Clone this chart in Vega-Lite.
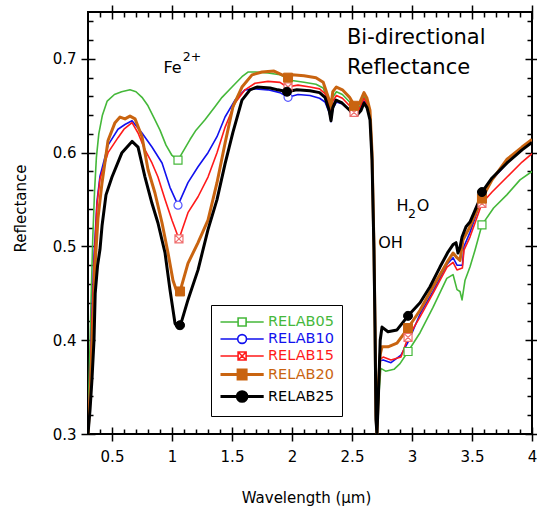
{
  "$schema": "https://vega.github.io/schema/vega-lite/v6.json",
  "width": 444,
  "height": 422,
  "autosize": {"type": "none"},
  "padding": {"left": 88, "top": 12, "right": 5, "bottom": 75},
  "config": {
    "view": {"stroke": "black", "strokeWidth": 2},
    "font": "DejaVu Sans",
    "axis": {"grid": false, "domain": false, "ticks": true, "tickColor": "#000000", "tickOpacity": 1, "tickWidth": 1.5, "labelFont": "DejaVu Sans", "labelFontSize": 15, "labelColor": "black", "titleFont": "DejaVu Sans", "titleFontSize": 15, "titleFontWeight": "normal", "titleColor": "black", "labelFlush": false, "labelOverlap": false},
    "legend": {"title": null, "orient": "none", "legendX": 123, "legendY": 293, "padding": 8, "strokeColor": "black", "fillColor": "white", "labelFont": "DejaVu Sans", "labelFontSize": 14.5, "labelOffset": 30, "rowPadding": 0, "symbolSize": 256, "symbolOpacity": 1}
  },
  "datasets": {
    "spectra": [
      {"series":"RELAB05","wavelength":0.300,"reflectance":0.300},{"series":"RELAB05","wavelength":0.310,"reflectance":0.360},{"series":"RELAB05","wavelength":0.325,"reflectance":0.440},{"series":"RELAB05","wavelength":0.340,"reflectance":0.510},{"series":"RELAB05","wavelength":0.355,"reflectance":0.560},{"series":"RELAB05","wavelength":0.370,"reflectance":0.595},{"series":"RELAB05","wavelength":0.390,"reflectance":0.620},{"series":"RELAB05","wavelength":0.420,"reflectance":0.640},{"series":"RELAB05","wavelength":0.460,"reflectance":0.655},{"series":"RELAB05","wavelength":0.520,"reflectance":0.662},{"series":"RELAB05","wavelength":0.580,"reflectance":0.665},{"series":"RELAB05","wavelength":0.650,"reflectance":0.667},{"series":"RELAB05","wavelength":0.700,"reflectance":0.665},{"series":"RELAB05","wavelength":0.750,"reflectance":0.659},{"series":"RELAB05","wavelength":0.800,"reflectance":0.650},{"series":"RELAB05","wavelength":0.850,"reflectance":0.637},{"series":"RELAB05","wavelength":0.900,"reflectance":0.624},{"series":"RELAB05","wavelength":0.950,"reflectance":0.608},{"series":"RELAB05","wavelength":1.000,"reflectance":0.597},{"series":"RELAB05","wavelength":1.050,"reflectance":0.592},{"series":"RELAB05","wavelength":1.100,"reflectance":0.603},{"series":"RELAB05","wavelength":1.150,"reflectance":0.614},{"series":"RELAB05","wavelength":1.200,"reflectance":0.624},{"series":"RELAB05","wavelength":1.275,"reflectance":0.635},{"series":"RELAB05","wavelength":1.358,"reflectance":0.649},{"series":"RELAB05","wavelength":1.417,"reflectance":0.659},{"series":"RELAB05","wavelength":1.500,"reflectance":0.670},{"series":"RELAB05","wavelength":1.583,"reflectance":0.681},{"series":"RELAB05","wavelength":1.633,"reflectance":0.686},{"series":"RELAB05","wavelength":1.700,"reflectance":0.686},{"series":"RELAB05","wavelength":1.800,"reflectance":0.685},{"series":"RELAB05","wavelength":1.900,"reflectance":0.683},{"series":"RELAB05","wavelength":1.950,"reflectance":0.680},{"series":"RELAB05","wavelength":2.000,"reflectance":0.677},{"series":"RELAB05","wavelength":2.100,"reflectance":0.675},{"series":"RELAB05","wavelength":2.200,"reflectance":0.673},{"series":"RELAB05","wavelength":2.260,"reflectance":0.669},{"series":"RELAB05","wavelength":2.300,"reflectance":0.655},{"series":"RELAB05","wavelength":2.325,"reflectance":0.644},{"series":"RELAB05","wavelength":2.340,"reflectance":0.659},{"series":"RELAB05","wavelength":2.370,"reflectance":0.665},{"series":"RELAB05","wavelength":2.420,"reflectance":0.662},{"series":"RELAB05","wavelength":2.480,"reflectance":0.654},{"series":"RELAB05","wavelength":2.520,"reflectance":0.646},{"series":"RELAB05","wavelength":2.560,"reflectance":0.648},{"series":"RELAB05","wavelength":2.600,"reflectance":0.660},{"series":"RELAB05","wavelength":2.625,"reflectance":0.654},{"series":"RELAB05","wavelength":2.650,"reflectance":0.641},{"series":"RELAB05","wavelength":2.667,"reflectance":0.597},{"series":"RELAB05","wavelength":2.683,"reflectance":0.499},{"series":"RELAB05","wavelength":2.692,"reflectance":0.414},{"series":"RELAB05","wavelength":2.700,"reflectance":0.318},{"series":"RELAB05","wavelength":2.708,"reflectance":0.300},{"series":"RELAB05","wavelength":2.720,"reflectance":0.335},{"series":"RELAB05","wavelength":2.740,"reflectance":0.370},{"series":"RELAB05","wavelength":2.780,"reflectance":0.367},{"series":"RELAB05","wavelength":2.850,"reflectance":0.369},{"series":"RELAB05","wavelength":2.900,"reflectance":0.375},{"series":"RELAB05","wavelength":2.967,"reflectance":0.388},{"series":"RELAB05","wavelength":3.067,"reflectance":0.408},{"series":"RELAB05","wavelength":3.175,"reflectance":0.435},{"series":"RELAB05","wavelength":3.290,"reflectance":0.466},{"series":"RELAB05","wavelength":3.342,"reflectance":0.470},{"series":"RELAB05","wavelength":3.375,"reflectance":0.454},{"series":"RELAB05","wavelength":3.400,"reflectance":0.452},{"series":"RELAB05","wavelength":3.417,"reflectance":0.443},{"series":"RELAB05","wavelength":3.442,"reflectance":0.464},{"series":"RELAB05","wavelength":3.483,"reflectance":0.478},{"series":"RELAB05","wavelength":3.525,"reflectance":0.496},{"series":"RELAB05","wavelength":3.583,"reflectance":0.523},{"series":"RELAB05","wavelength":3.680,"reflectance":0.541},{"series":"RELAB05","wavelength":3.790,"reflectance":0.555},{"series":"RELAB05","wavelength":3.900,"reflectance":0.571},{"series":"RELAB05","wavelength":4.000,"reflectance":0.580},

      {"series":"RELAB10","wavelength":0.300,"reflectance":0.300},{"series":"RELAB10","wavelength":0.317,"reflectance":0.350},{"series":"RELAB10","wavelength":0.333,"reflectance":0.425},{"series":"RELAB10","wavelength":0.350,"reflectance":0.490},{"series":"RELAB10","wavelength":0.375,"reflectance":0.548},{"series":"RELAB10","wavelength":0.400,"reflectance":0.575},{"series":"RELAB10","wavelength":0.467,"reflectance":0.608},{"series":"RELAB10","wavelength":0.550,"reflectance":0.625},{"series":"RELAB10","wavelength":0.608,"reflectance":0.630},{"series":"RELAB10","wavelength":0.667,"reflectance":0.634},{"series":"RELAB10","wavelength":0.750,"reflectance":0.621},{"series":"RELAB10","wavelength":0.833,"reflectance":0.606},{"series":"RELAB10","wavelength":0.917,"reflectance":0.589},{"series":"RELAB10","wavelength":0.983,"reflectance":0.563},{"series":"RELAB10","wavelength":1.050,"reflectance":0.544},{"series":"RELAB10","wavelength":1.133,"reflectance":0.568},{"series":"RELAB10","wavelength":1.217,"reflectance":0.585},{"series":"RELAB10","wavelength":1.300,"reflectance":0.600},{"series":"RELAB10","wavelength":1.375,"reflectance":0.617},{"series":"RELAB10","wavelength":1.442,"reflectance":0.638},{"series":"RELAB10","wavelength":1.525,"reflectance":0.656},{"series":"RELAB10","wavelength":1.608,"reflectance":0.667},{"series":"RELAB10","wavelength":1.700,"reflectance":0.668},{"series":"RELAB10","wavelength":1.800,"reflectance":0.667},{"series":"RELAB10","wavelength":1.900,"reflectance":0.664},{"series":"RELAB10","wavelength":1.967,"reflectance":0.659},{"series":"RELAB10","wavelength":2.050,"reflectance":0.662},{"series":"RELAB10","wavelength":2.150,"reflectance":0.661},{"series":"RELAB10","wavelength":2.230,"reflectance":0.658},{"series":"RELAB10","wavelength":2.275,"reflectance":0.654},{"series":"RELAB10","wavelength":2.310,"reflectance":0.643},{"series":"RELAB10","wavelength":2.325,"reflectance":0.633},{"series":"RELAB10","wavelength":2.340,"reflectance":0.647},{"series":"RELAB10","wavelength":2.370,"reflectance":0.654},{"series":"RELAB10","wavelength":2.420,"reflectance":0.652},{"series":"RELAB10","wavelength":2.480,"reflectance":0.645},{"series":"RELAB10","wavelength":2.520,"reflectance":0.640},{"series":"RELAB10","wavelength":2.560,"reflectance":0.643},{"series":"RELAB10","wavelength":2.600,"reflectance":0.655},{"series":"RELAB10","wavelength":2.625,"reflectance":0.650},{"series":"RELAB10","wavelength":2.650,"reflectance":0.638},{"series":"RELAB10","wavelength":2.667,"reflectance":0.593},{"series":"RELAB10","wavelength":2.683,"reflectance":0.497},{"series":"RELAB10","wavelength":2.692,"reflectance":0.412},{"series":"RELAB10","wavelength":2.700,"reflectance":0.316},{"series":"RELAB10","wavelength":2.708,"reflectance":0.300},{"series":"RELAB10","wavelength":2.720,"reflectance":0.345},{"series":"RELAB10","wavelength":2.735,"reflectance":0.378},{"series":"RELAB10","wavelength":2.760,"reflectance":0.379},{"series":"RELAB10","wavelength":2.825,"reflectance":0.376},{"series":"RELAB10","wavelength":2.908,"reflectance":0.384},{"series":"RELAB10","wavelength":2.967,"reflectance":0.398},{"series":"RELAB10","wavelength":3.067,"reflectance":0.428},{"series":"RELAB10","wavelength":3.175,"reflectance":0.452},{"series":"RELAB10","wavelength":3.292,"reflectance":0.481},{"series":"RELAB10","wavelength":3.342,"reflectance":0.488},{"series":"RELAB10","wavelength":3.375,"reflectance":0.480},{"series":"RELAB10","wavelength":3.420,"reflectance":0.480},{"series":"RELAB10","wavelength":3.433,"reflectance":0.500},{"series":"RELAB10","wavelength":3.483,"reflectance":0.515},{"series":"RELAB10","wavelength":3.525,"reflectance":0.530},{"series":"RELAB10","wavelength":3.583,"reflectance":0.553},{"series":"RELAB10","wavelength":3.667,"reflectance":0.571},{"series":"RELAB10","wavelength":3.792,"reflectance":0.589},{"series":"RELAB10","wavelength":3.917,"reflectance":0.605},{"series":"RELAB10","wavelength":4.000,"reflectance":0.612},

      {"series":"RELAB15","wavelength":0.300,"reflectance":0.300},{"series":"RELAB15","wavelength":0.317,"reflectance":0.350},{"series":"RELAB15","wavelength":0.333,"reflectance":0.420},{"series":"RELAB15","wavelength":0.350,"reflectance":0.480},{"series":"RELAB15","wavelength":0.375,"reflectance":0.545},{"series":"RELAB15","wavelength":0.400,"reflectance":0.572},{"series":"RELAB15","wavelength":0.467,"reflectance":0.600},{"series":"RELAB15","wavelength":0.550,"reflectance":0.616},{"series":"RELAB15","wavelength":0.600,"reflectance":0.625},{"series":"RELAB15","wavelength":0.667,"reflectance":0.632},{"series":"RELAB15","wavelength":0.717,"reflectance":0.621},{"series":"RELAB15","wavelength":0.775,"reflectance":0.603},{"series":"RELAB15","wavelength":0.833,"reflectance":0.589},{"series":"RELAB15","wavelength":0.883,"reflectance":0.574},{"series":"RELAB15","wavelength":0.942,"reflectance":0.550},{"series":"RELAB15","wavelength":1.000,"reflectance":0.528},{"series":"RELAB15","wavelength":1.058,"reflectance":0.508},{"series":"RELAB15","wavelength":1.133,"reflectance":0.536},{"series":"RELAB15","wavelength":1.217,"reflectance":0.553},{"series":"RELAB15","wavelength":1.300,"reflectance":0.574},{"series":"RELAB15","wavelength":1.375,"reflectance":0.600},{"series":"RELAB15","wavelength":1.442,"reflectance":0.627},{"series":"RELAB15","wavelength":1.525,"reflectance":0.653},{"series":"RELAB15","wavelength":1.608,"reflectance":0.667},{"series":"RELAB15","wavelength":1.692,"reflectance":0.674},{"series":"RELAB15","wavelength":1.800,"reflectance":0.676},{"series":"RELAB15","wavelength":1.900,"reflectance":0.675},{"series":"RELAB15","wavelength":1.958,"reflectance":0.670},{"series":"RELAB15","wavelength":2.050,"reflectance":0.672},{"series":"RELAB15","wavelength":2.150,"reflectance":0.670},{"series":"RELAB15","wavelength":2.230,"reflectance":0.668},{"series":"RELAB15","wavelength":2.275,"reflectance":0.663},{"series":"RELAB15","wavelength":2.310,"reflectance":0.650},{"series":"RELAB15","wavelength":2.325,"reflectance":0.640},{"series":"RELAB15","wavelength":2.340,"reflectance":0.655},{"series":"RELAB15","wavelength":2.370,"reflectance":0.661},{"series":"RELAB15","wavelength":2.420,"reflectance":0.658},{"series":"RELAB15","wavelength":2.480,"reflectance":0.650},{"series":"RELAB15","wavelength":2.520,"reflectance":0.643},{"series":"RELAB15","wavelength":2.560,"reflectance":0.646},{"series":"RELAB15","wavelength":2.600,"reflectance":0.658},{"series":"RELAB15","wavelength":2.625,"reflectance":0.652},{"series":"RELAB15","wavelength":2.650,"reflectance":0.640},{"series":"RELAB15","wavelength":2.667,"reflectance":0.595},{"series":"RELAB15","wavelength":2.683,"reflectance":0.498},{"series":"RELAB15","wavelength":2.692,"reflectance":0.413},{"series":"RELAB15","wavelength":2.700,"reflectance":0.317},{"series":"RELAB15","wavelength":2.708,"reflectance":0.300},{"series":"RELAB15","wavelength":2.720,"reflectance":0.345},{"series":"RELAB15","wavelength":2.735,"reflectance":0.380},{"series":"RELAB15","wavelength":2.760,"reflectance":0.382},{"series":"RELAB15","wavelength":2.825,"reflectance":0.379},{"series":"RELAB15","wavelength":2.908,"reflectance":0.382},{"series":"RELAB15","wavelength":2.967,"reflectance":0.403},{"series":"RELAB15","wavelength":3.067,"reflectance":0.425},{"series":"RELAB15","wavelength":3.175,"reflectance":0.450},{"series":"RELAB15","wavelength":3.292,"reflectance":0.478},{"series":"RELAB15","wavelength":3.342,"reflectance":0.483},{"series":"RELAB15","wavelength":3.375,"reflectance":0.475},{"series":"RELAB15","wavelength":3.420,"reflectance":0.477},{"series":"RELAB15","wavelength":3.433,"reflectance":0.496},{"series":"RELAB15","wavelength":3.483,"reflectance":0.510},{"series":"RELAB15","wavelength":3.525,"reflectance":0.525},{"series":"RELAB15","wavelength":3.583,"reflectance":0.546},{"series":"RELAB15","wavelength":3.667,"reflectance":0.558},{"series":"RELAB15","wavelength":3.792,"reflectance":0.574},{"series":"RELAB15","wavelength":3.917,"reflectance":0.590},{"series":"RELAB15","wavelength":4.000,"reflectance":0.599},

      {"series":"RELAB20","wavelength":0.300,"reflectance":0.300},{"series":"RELAB20","wavelength":0.317,"reflectance":0.340},{"series":"RELAB20","wavelength":0.333,"reflectance":0.390},{"series":"RELAB20","wavelength":0.350,"reflectance":0.440},{"series":"RELAB20","wavelength":0.358,"reflectance":0.478},{"series":"RELAB20","wavelength":0.383,"reflectance":0.530},{"series":"RELAB20","wavelength":0.417,"reflectance":0.568},{"series":"RELAB20","wavelength":0.467,"reflectance":0.613},{"series":"RELAB20","wavelength":0.525,"reflectance":0.632},{"series":"RELAB20","wavelength":0.567,"reflectance":0.638},{"series":"RELAB20","wavelength":0.608,"reflectance":0.636},{"series":"RELAB20","wavelength":0.650,"reflectance":0.639},{"series":"RELAB20","wavelength":0.692,"reflectance":0.636},{"series":"RELAB20","wavelength":0.750,"reflectance":0.617},{"series":"RELAB20","wavelength":0.800,"reflectance":0.582},{"series":"RELAB20","wavelength":0.858,"reflectance":0.557},{"series":"RELAB20","wavelength":0.917,"reflectance":0.525},{"series":"RELAB20","wavelength":0.967,"reflectance":0.493},{"series":"RELAB20","wavelength":1.008,"reflectance":0.464},{"series":"RELAB20","wavelength":1.042,"reflectance":0.451},{"series":"RELAB20","wavelength":1.067,"reflectance":0.452},{"series":"RELAB20","wavelength":1.133,"reflectance":0.482},{"series":"RELAB20","wavelength":1.217,"reflectance":0.504},{"series":"RELAB20","wavelength":1.300,"reflectance":0.528},{"series":"RELAB20","wavelength":1.375,"reflectance":0.568},{"series":"RELAB20","wavelength":1.442,"reflectance":0.610},{"series":"RELAB20","wavelength":1.508,"reflectance":0.649},{"series":"RELAB20","wavelength":1.583,"reflectance":0.670},{"series":"RELAB20","wavelength":1.667,"reflectance":0.683},{"series":"RELAB20","wavelength":1.750,"reflectance":0.686},{"series":"RELAB20","wavelength":1.850,"reflectance":0.687},{"series":"RELAB20","wavelength":1.967,"reflectance":0.680},{"series":"RELAB20","wavelength":2.000,"reflectance":0.683},{"series":"RELAB20","wavelength":2.100,"reflectance":0.682},{"series":"RELAB20","wavelength":2.200,"reflectance":0.680},{"series":"RELAB20","wavelength":2.260,"reflectance":0.675},{"series":"RELAB20","wavelength":2.300,"reflectance":0.660},{"series":"RELAB20","wavelength":2.325,"reflectance":0.650},{"series":"RELAB20","wavelength":2.340,"reflectance":0.665},{"series":"RELAB20","wavelength":2.370,"reflectance":0.670},{"series":"RELAB20","wavelength":2.420,"reflectance":0.667},{"series":"RELAB20","wavelength":2.480,"reflectance":0.659},{"series":"RELAB20","wavelength":2.520,"reflectance":0.650},{"series":"RELAB20","wavelength":2.560,"reflectance":0.652},{"series":"RELAB20","wavelength":2.600,"reflectance":0.664},{"series":"RELAB20","wavelength":2.625,"reflectance":0.658},{"series":"RELAB20","wavelength":2.650,"reflectance":0.645},{"series":"RELAB20","wavelength":2.667,"reflectance":0.600},{"series":"RELAB20","wavelength":2.683,"reflectance":0.500},{"series":"RELAB20","wavelength":2.692,"reflectance":0.415},{"series":"RELAB20","wavelength":2.700,"reflectance":0.320},{"series":"RELAB20","wavelength":2.708,"reflectance":0.300},{"series":"RELAB20","wavelength":2.720,"reflectance":0.350},{"series":"RELAB20","wavelength":2.735,"reflectance":0.385},{"series":"RELAB20","wavelength":2.750,"reflectance":0.393},{"series":"RELAB20","wavelength":2.800,"reflectance":0.393},{"series":"RELAB20","wavelength":2.875,"reflectance":0.397},{"series":"RELAB20","wavelength":2.967,"reflectance":0.413},{"series":"RELAB20","wavelength":3.067,"reflectance":0.432},{"series":"RELAB20","wavelength":3.175,"reflectance":0.457},{"series":"RELAB20","wavelength":3.292,"reflectance":0.483},{"series":"RELAB20","wavelength":3.342,"reflectance":0.493},{"series":"RELAB20","wavelength":3.375,"reflectance":0.488},{"series":"RELAB20","wavelength":3.400,"reflectance":0.485},{"series":"RELAB20","wavelength":3.425,"reflectance":0.507},{"series":"RELAB20","wavelength":3.483,"reflectance":0.521},{"series":"RELAB20","wavelength":3.542,"reflectance":0.539},{"series":"RELAB20","wavelength":3.583,"reflectance":0.551},{"series":"RELAB20","wavelength":3.667,"reflectance":0.571},{"series":"RELAB20","wavelength":3.792,"reflectance":0.593},{"series":"RELAB20","wavelength":3.917,"reflectance":0.606},{"series":"RELAB20","wavelength":4.000,"reflectance":0.614},

      {"series":"RELAB25","wavelength":0.300,"reflectance":0.300},{"series":"RELAB25","wavelength":0.317,"reflectance":0.326},{"series":"RELAB25","wavelength":0.333,"reflectance":0.358},{"series":"RELAB25","wavelength":0.350,"reflectance":0.400},{"series":"RELAB25","wavelength":0.360,"reflectance":0.450},{"series":"RELAB25","wavelength":0.380,"reflectance":0.480},{"series":"RELAB25","wavelength":0.400,"reflectance":0.497},{"series":"RELAB25","wavelength":0.417,"reflectance":0.522},{"series":"RELAB25","wavelength":0.450,"reflectance":0.555},{"series":"RELAB25","wavelength":0.500,"reflectance":0.574},{"series":"RELAB25","wavelength":0.583,"reflectance":0.600},{"series":"RELAB25","wavelength":0.667,"reflectance":0.612},{"series":"RELAB25","wavelength":0.717,"reflectance":0.606},{"series":"RELAB25","wavelength":0.775,"reflectance":0.574},{"series":"RELAB25","wavelength":0.833,"reflectance":0.546},{"series":"RELAB25","wavelength":0.883,"reflectance":0.525},{"series":"RELAB25","wavelength":0.942,"reflectance":0.493},{"series":"RELAB25","wavelength":0.983,"reflectance":0.454},{"series":"RELAB25","wavelength":1.025,"reflectance":0.418},{"series":"RELAB25","wavelength":1.050,"reflectance":0.413},{"series":"RELAB25","wavelength":1.075,"reflectance":0.418},{"series":"RELAB25","wavelength":1.133,"reflectance":0.443},{"series":"RELAB25","wavelength":1.217,"reflectance":0.475},{"series":"RELAB25","wavelength":1.300,"reflectance":0.518},{"series":"RELAB25","wavelength":1.375,"reflectance":0.550},{"series":"RELAB25","wavelength":1.442,"reflectance":0.588},{"series":"RELAB25","wavelength":1.508,"reflectance":0.622},{"series":"RELAB25","wavelength":1.583,"reflectance":0.656},{"series":"RELAB25","wavelength":1.650,"reflectance":0.667},{"series":"RELAB25","wavelength":1.708,"reflectance":0.670},{"series":"RELAB25","wavelength":1.817,"reflectance":0.669},{"series":"RELAB25","wavelength":1.883,"reflectance":0.667},{"series":"RELAB25","wavelength":1.958,"reflectance":0.665},{"series":"RELAB25","wavelength":2.040,"reflectance":0.667},{"series":"RELAB25","wavelength":2.150,"reflectance":0.666},{"series":"RELAB25","wavelength":2.230,"reflectance":0.664},{"series":"RELAB25","wavelength":2.275,"reflectance":0.659},{"series":"RELAB25","wavelength":2.310,"reflectance":0.645},{"series":"RELAB25","wavelength":2.325,"reflectance":0.634},{"series":"RELAB25","wavelength":2.340,"reflectance":0.648},{"series":"RELAB25","wavelength":2.367,"reflectance":0.656},{"series":"RELAB25","wavelength":2.417,"reflectance":0.653},{"series":"RELAB25","wavelength":2.483,"reflectance":0.645},{"series":"RELAB25","wavelength":2.510,"reflectance":0.640},{"series":"RELAB25","wavelength":2.540,"reflectance":0.640},{"series":"RELAB25","wavelength":2.575,"reflectance":0.645},{"series":"RELAB25","wavelength":2.600,"reflectance":0.653},{"series":"RELAB25","wavelength":2.625,"reflectance":0.648},{"series":"RELAB25","wavelength":2.650,"reflectance":0.635},{"series":"RELAB25","wavelength":2.667,"reflectance":0.592},{"series":"RELAB25","wavelength":2.683,"reflectance":0.496},{"series":"RELAB25","wavelength":2.692,"reflectance":0.411},{"series":"RELAB25","wavelength":2.700,"reflectance":0.315},{"series":"RELAB25","wavelength":2.708,"reflectance":0.300},{"series":"RELAB25","wavelength":2.720,"reflectance":0.340},{"series":"RELAB25","wavelength":2.735,"reflectance":0.400},{"series":"RELAB25","wavelength":2.750,"reflectance":0.414},{"series":"RELAB25","wavelength":2.800,"reflectance":0.409},{"series":"RELAB25","wavelength":2.875,"reflectance":0.411},{"series":"RELAB25","wavelength":2.967,"reflectance":0.426},{"series":"RELAB25","wavelength":3.067,"reflectance":0.440},{"series":"RELAB25","wavelength":3.150,"reflectance":0.457},{"series":"RELAB25","wavelength":3.233,"reflectance":0.478},{"series":"RELAB25","wavelength":3.300,"reflectance":0.494},{"series":"RELAB25","wavelength":3.342,"reflectance":0.502},{"series":"RELAB25","wavelength":3.367,"reflectance":0.504},{"series":"RELAB25","wavelength":3.383,"reflectance":0.493},{"series":"RELAB25","wavelength":3.400,"reflectance":0.499},{"series":"RELAB25","wavelength":3.417,"reflectance":0.510},{"series":"RELAB25","wavelength":3.450,"reflectance":0.521},{"series":"RELAB25","wavelength":3.483,"reflectance":0.526},{"series":"RELAB25","wavelength":3.517,"reflectance":0.536},{"series":"RELAB25","wavelength":3.550,"reflectance":0.546},{"series":"RELAB25","wavelength":3.583,"reflectance":0.558},{"series":"RELAB25","wavelength":3.667,"reflectance":0.573},{"series":"RELAB25","wavelength":3.792,"reflectance":0.589},{"series":"RELAB25","wavelength":3.917,"reflectance":0.603},{"series":"RELAB25","wavelength":4.000,"reflectance":0.611}
    ],
    "markers": [
      {"series":"RELAB05","wavelength":1.050,"reflectance":0.592},{"series":"RELAB05","wavelength":2.967,"reflectance":0.388},{"series":"RELAB05","wavelength":3.583,"reflectance":0.523},
      {"series":"RELAB10","wavelength":1.050,"reflectance":0.544},{"series":"RELAB10","wavelength":1.967,"reflectance":0.659},
      {"series":"RELAB15","wavelength":1.058,"reflectance":0.508},{"series":"RELAB15","wavelength":1.967,"reflectance":0.670},{"series":"RELAB15","wavelength":2.517,"reflectance":0.643},{"series":"RELAB15","wavelength":2.967,"reflectance":0.403},{"series":"RELAB15","wavelength":3.583,"reflectance":0.546},
      {"series":"RELAB20","wavelength":1.067,"reflectance":0.452},{"series":"RELAB20","wavelength":1.967,"reflectance":0.680},{"series":"RELAB20","wavelength":2.517,"reflectance":0.650},{"series":"RELAB20","wavelength":2.967,"reflectance":0.413},{"series":"RELAB20","wavelength":3.583,"reflectance":0.551},
      {"series":"RELAB25","wavelength":1.067,"reflectance":0.416},{"series":"RELAB25","wavelength":1.958,"reflectance":0.665},{"series":"RELAB25","wavelength":2.967,"reflectance":0.426},{"series":"RELAB25","wavelength":3.583,"reflectance":0.558}
    ],
    "titleNotes": [
      {"label":"Bi-directional","wavelength":2.458,"reflectance":0.7223},
      {"label":"Reflectance","wavelength":2.458,"reflectance":0.6908}
    ],
    "bandNotes": [
      {"label":"Fe","wavelength":1.004,"reflectance":0.690},
      {"label":"H","wavelength":2.921,"reflectance":0.5431},
      {"label":"O","wavelength":3.092,"reflectance":0.5431},
      {"label":"OH","wavelength":2.821,"reflectance":0.5042}
    ],
    "scriptNotes": [
      {"label":"2+","wavelength":1.167,"reflectance":0.7015},
      {"label":"2","wavelength":3.0,"reflectance":0.5346}
    ]
  },
  "layer": [
    {
      "data": {"name": "spectra"},
      "mark": {"type": "line", "clip": true, "strokeJoin": "round"},
      "encoding": {
        "x": {"field": "wavelength", "type": "quantitative", "scale": {"domain": [0.3, 4], "nice": false, "zero": false},
          "axis": {"orient": "bottom", "values": [0.5,1,1.5,2,2.5,3,3.5,4], "format": "~g", "tickSize": 7, "labelPadding": 8, "title": "Wavelength (μm)", "titleX": 218, "titleY": 63, "titleBaseline": "middle"}},
        "y": {"field": "reflectance", "type": "quantitative", "scale": {"domain": [0.3, 0.75], "nice": false, "zero": false},
          "axis": {"orient": "left", "values": [0.3,0.4,0.5,0.6,0.7], "format": ".1f", "tickSize": 7, "labelPadding": 5, "title": "Reflectance", "titleX": -68, "titleY": 196, "titleAngle": -90, "titleBaseline": "middle", "titleAlign": "center"}},
        "stroke": {"field": "series", "type": "nominal",
          "scale": {"domain": ["RELAB05","RELAB10","RELAB15","RELAB20","RELAB25"], "range": ["#45b83a","#1111ee","#ff1a1a","#c96410","#000000"]},
          "legend": {"encode": {"labels": {"update": {"fill": {"signal": "datum.value=='RELAB05' ? '#45b83a' : datum.value=='RELAB10' ? '#1111ee' : datum.value=='RELAB15' ? '#ff1a1a' : datum.value=='RELAB20' ? '#c96410' : '#000000'"}}}}}},
        "strokeWidth": {"condition": {"test": "datum.series=='RELAB20' || datum.series=='RELAB25'", "value": 3}, "value": 1.6}
      }
    },
    {
      "data": {"name": "markers"},
      "mark": {"type": "point", "filled": true, "opacity": 0},
      "encoding": {
        "x": {"field": "wavelength", "type": "quantitative",
          "axis": {"orient": "bottom", "values": [0.5,1,1.5,2,2.5,3,3.5,4], "tickSize": -7, "labels": false, "title": null}},
        "y": {"field": "reflectance", "type": "quantitative",
          "axis": {"orient": "left", "values": [0.3,0.4,0.5,0.6,0.7], "tickSize": -7, "labels": false, "title": null}},
        "fill": {"field": "series", "type": "nominal",
          "scale": {"domain": ["RELAB05","RELAB10","RELAB15","RELAB20","RELAB25"], "range": ["#ffffff","#ffffff","#ffffff","#c96410","#000000"]},
          "legend": {"encode": {"labels": {"update": {"fill": {"signal": "datum.value=='RELAB05' ? '#45b83a' : datum.value=='RELAB10' ? '#1111ee' : datum.value=='RELAB15' ? '#ff1a1a' : datum.value=='RELAB20' ? '#c96410' : '#000000'"}}}}}},
        "shape": {"field": "series", "type": "nominal",
          "scale": {"domain": ["RELAB05","RELAB10","RELAB15","RELAB20","RELAB25"], "range": [
            "M-1,0H1.2M2.2,0H4.4M1.2,-0.5H2.2V0.5H1.2Z",
            "M-1,0H1.15M2.25,0H4.4M2.25,0A0.55,0.55,0,1,1,1.15,0A0.55,0.55,0,1,1,2.25,0Z",
            "M-1,0H1.2M2.2,0H4.4M1.2,-0.5H2.2V0.5H1.2ZM1.2,-0.5L2.2,0.5M2.2,-0.5L1.2,0.5",
            "M-1,0H1.2M2.2,0H4.4M1.2,-0.55H2.2V0.55H1.2Z",
            "M-1,0H1.1M2.3,0H4.4M2.3,0A0.6,0.6,0,1,1,1.1,0A0.6,0.6,0,1,1,2.3,0Z"]},
          "legend": {"encode": {"labels": {"update": {"fill": {"signal": "datum.value=='RELAB05' ? '#45b83a' : datum.value=='RELAB10' ? '#1111ee' : datum.value=='RELAB15' ? '#ff1a1a' : datum.value=='RELAB20' ? '#c96410' : '#000000'"}}}}}},
        "strokeWidth": {"field": "series", "type": "nominal",
          "scale": {"type": "ordinal", "domain": ["RELAB05","RELAB10","RELAB15","RELAB20","RELAB25"], "range": [1.6, 1.6, 1.6, 3, 3]},
          "legend": {"encode": {"labels": {"update": {"fill": {"signal": "datum.value=='RELAB05' ? '#45b83a' : datum.value=='RELAB10' ? '#1111ee' : datum.value=='RELAB15' ? '#ff1a1a' : datum.value=='RELAB20' ? '#c96410' : '#000000'"}}}}}}
      }
    },
    {
      "data": {"name": "markers"},
      "transform": [{"filter": "datum.series == 'RELAB05'"}],
      "mark": {"type": "point", "shape": "square", "size": 64, "filled": true, "fill": "#ffffff", "stroke": "#45b83a", "strokeWidth": 1.2, "opacity": 1},
      "encoding": {
        "x": {"field": "wavelength", "type": "quantitative",
          "axis": {"orient": "bottom", "values": [0.4,0.6,0.7,0.8,0.9,1.1,1.2,1.3,1.4,1.6,1.7,1.8,1.9,2.1,2.2,2.3,2.4,2.6,2.7,2.8,2.9,3.1,3.2,3.3,3.4,3.6,3.7,3.8,3.9], "tickSize": -5, "labels": false, "title": null}},
        "y": {"field": "reflectance", "type": "quantitative",
          "axis": {"orient": "left", "values": [0.32,0.34,0.36,0.38,0.42,0.44,0.46,0.48,0.52,0.54,0.56,0.58,0.62,0.64,0.66,0.68,0.72,0.74], "tickSize": -5, "labels": false, "title": null}}
      }
    },
    {
      "data": {"name": "markers"},
      "transform": [{"filter": "datum.series == 'RELAB10'"}],
      "mark": {"type": "point", "shape": "circle", "size": 64, "filled": true, "fill": "#ffffff", "stroke": "#5555ff", "strokeWidth": 1.2, "opacity": 1},
      "encoding": {
        "x": {"field": "wavelength", "type": "quantitative",
          "axis": {"orient": "top", "values": [0.5,1,1.5,2,2.5,3,3.5,4], "tickSize": 7, "labels": false, "title": null}},
        "y": {"field": "reflectance", "type": "quantitative",
          "axis": {"orient": "right", "values": [0.3,0.4,0.5,0.6,0.7], "tickSize": 7, "labels": false, "title": null}}
      }
    },
    {
      "data": {"name": "markers"},
      "transform": [{"filter": "datum.series == 'RELAB15'"}],
      "mark": {"type": "point", "shape": "M-1,-1H1V1H-1ZM-1,-1L1,1M1,-1L-1,1", "size": 64, "filled": true, "fill": "#ffffff", "stroke": "#f07070", "strokeWidth": 1.2, "opacity": 1},
      "encoding": {
        "x": {"field": "wavelength", "type": "quantitative",
          "axis": {"orient": "top", "values": [0.5,1,1.5,2,2.5,3,3.5,4], "tickSize": -7, "labels": false, "title": null}},
        "y": {"field": "reflectance", "type": "quantitative",
          "axis": {"orient": "right", "values": [0.3,0.4,0.5,0.6,0.7], "tickSize": -7, "labels": false, "title": null}}
      }
    },
    {
      "data": {"name": "markers"},
      "transform": [{"filter": "datum.series == 'RELAB20'"}],
      "mark": {"type": "point", "shape": "square", "size": 81, "filled": true, "fill": "#c96410", "stroke": "#c96410", "strokeWidth": 1, "opacity": 1},
      "encoding": {
        "x": {"field": "wavelength", "type": "quantitative",
          "axis": {"orient": "top", "values": [0.4,0.6,0.7,0.8,0.9,1.1,1.2,1.3,1.4,1.6,1.7,1.8,1.9,2.1,2.2,2.3,2.4,2.6,2.7,2.8,2.9,3.1,3.2,3.3,3.4,3.6,3.7,3.8,3.9], "tickSize": -5, "labels": false, "title": null}},
        "y": {"field": "reflectance", "type": "quantitative",
          "axis": {"orient": "right", "values": [0.32,0.34,0.36,0.38,0.42,0.44,0.46,0.48,0.52,0.54,0.56,0.58,0.62,0.64,0.66,0.68,0.72,0.74], "tickSize": -5, "labels": false, "title": null}}
      }
    },
    {
      "data": {"name": "markers"},
      "transform": [{"filter": "datum.series == 'RELAB25'"}],
      "mark": {"type": "point", "shape": "circle", "size": 81, "filled": true, "fill": "#000000", "stroke": "#000000", "strokeWidth": 1, "opacity": 1},
      "encoding": {"x": {"field": "wavelength", "type": "quantitative", "axis": null}, "y": {"field": "reflectance", "type": "quantitative", "axis": null}}
    },
    {
      "data": {"name": "titleNotes"},
      "mark": {"type": "text", "align": "left", "baseline": "middle", "fontSize": 21, "font": "DejaVu Sans", "color": "black"},
      "encoding": {
        "x": {"field": "wavelength", "type": "quantitative", "axis": null},
        "y": {"field": "reflectance", "type": "quantitative", "axis": null},
        "text": {"field": "label"}
      }
    },
    {
      "data": {"name": "bandNotes"},
      "mark": {"type": "text", "align": "center", "baseline": "middle", "fontSize": 16, "font": "DejaVu Sans", "color": "black"},
      "encoding": {
        "x": {"field": "wavelength", "type": "quantitative", "axis": null},
        "y": {"field": "reflectance", "type": "quantitative", "axis": null},
        "text": {"field": "label"}
      }
    },
    {
      "data": {"name": "scriptNotes"},
      "mark": {"type": "text", "align": "center", "baseline": "middle", "fontSize": 12.5, "font": "DejaVu Sans", "color": "black"},
      "encoding": {
        "x": {"field": "wavelength", "type": "quantitative", "axis": null},
        "y": {"field": "reflectance", "type": "quantitative", "axis": null},
        "text": {"field": "label"}
      }
    }
  ],
  "resolve": {"axis": {"x": "independent", "y": "independent"}}
}
